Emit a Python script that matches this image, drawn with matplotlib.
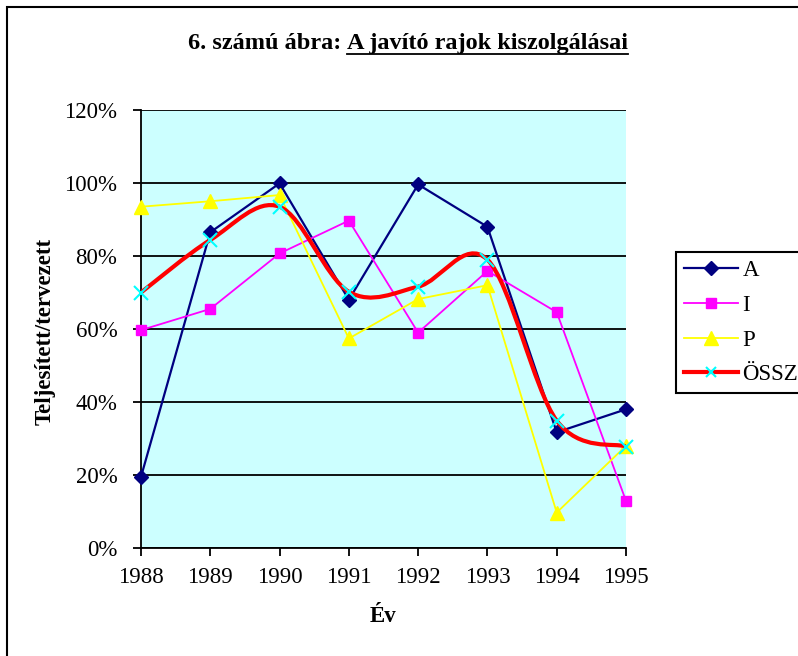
import matplotlib
matplotlib.use('Agg')
import matplotlib.pyplot as plt
from matplotlib.path import Path
from matplotlib.patches import PathPatch, Rectangle
from matplotlib.lines import Line2D
from matplotlib.ticker import FuncFormatter

plt.rcParams['font.family'] = ['Liberation Serif', 'DejaVu Serif']

# ── Data (percent, teljesített/tervezett) ─────────────────────────────────────
years = [1988, 1989, 1990, 1991, 1992, 1993, 1994, 1995]
val_a    = [19.5, 86.5, 99.9, 68.0, 99.6, 88.0, 31.7, 38.0]
val_i    = [59.7, 65.5, 80.7, 89.7, 59.0, 75.9, 64.6, 12.9]
val_p    = [93.5, 95.0, 96.7, 57.4, 68.2, 72.0,  9.7, 28.0]
val_ossz = [70.0, 84.4, 93.5, 70.2, 71.6, 79.0, 34.9, 27.8]

C_BG   = '#CCFFFF'
C_A    = '#000080'
C_I    = '#FF00FF'
C_P    = '#FFFF00'
C_OSSZ = '#FF0000'
C_X    = '#00FFFF'
FS = 16.5

W, H = 798, 656
fig = plt.figure(figsize=(W / 100, H / 100), dpi=100)
fig.patch.set_facecolor('white')

# outer chart border (right/bottom run off the picture)
fig.patches.append(Rectangle((7 / W, -0.05), 1.2, 1 - 7 / H + 0.05,
                             transform=fig.transFigure, fill=False,
                             edgecolor='black', lw=1.5))

ax = fig.add_axes([141 / W, 1 - 548 / H, (626 - 141) / W, (548 - 110) / H])
ax.set_facecolor(C_BG)
ax.set_xlim(years[0], years[-1])
ax.set_ylim(0, 120)
ax.set_yticks(range(0, 121, 20))
ax.set_xticks(years)
ax.yaxis.set_major_formatter(FuncFormatter(lambda v, p: f'{v:.0f}%'))
ax.grid(axis='y', color='black', lw=1.3)
ax.set_axisbelow(True)
for s in ['top', 'right']:
    ax.spines[s].set_visible(False)
for s in ['left', 'bottom']:
    ax.spines[s].set_linewidth(1.3)
ax.tick_params(direction='out', length=6, width=1.3, labelsize=FS, pad=8)
ax.tick_params(axis='y', pad=11)

ax.plot(years, val_a, color=C_A, lw=1.6, marker='D', ms=7, clip_on=False, zorder=3)
ax.plot(years, val_i, color=C_I, lw=1.3, marker='s', ms=7.5, clip_on=False, zorder=4)
ax.plot(years, val_p, color=C_P, lw=1.3, marker='^', ms=9.5, clip_on=False, zorder=5)

# smoothed ÖSSZ line: cubic Bezier segments through the points
pts = list(zip(years, val_ossz))
verts = [pts[0]]
codes = [Path.MOVETO]
for k in range(len(pts) - 1):
    p0 = pts[max(k - 1, 0)]
    p1 = pts[k]
    p2 = pts[k + 1]
    p3 = pts[min(k + 2, len(pts) - 1)]
    c1 = (p1[0] + (p2[0] - p0[0]) / 6, p1[1] + (p2[1] - p0[1]) / 6)
    c2 = (p2[0] - (p3[0] - p1[0]) / 6, p2[1] - (p3[1] - p1[1]) / 6)
    verts += [c1, c2, p2]
    codes += [Path.CURVE4] * 3
ax.add_patch(PathPatch(Path(verts, codes), fill=False, edgecolor=C_OSSZ,
                       lw=3, capstyle='round', joinstyle='round', zorder=6))
ax.plot(years, val_ossz, ls='none', marker='x', ms=10, mew=1.5, color=C_X,
        clip_on=False, zorder=7)

# ── Texts ─────────────────────────────────────────────────────────────────────
fig.text(45 / W, 1 - 331 / H, 'Teljesített/tervezett', rotation=90,
         fontsize=FS, fontweight='bold', ha='center', va='center')
fig.text(383 / W, 1 - 617 / H, 'Év', fontsize=FS, fontweight='bold',
         ha='center', va='center')

t1 = fig.text(0, 1 - 49 / H, '6. számú ábra: ', fontsize=17.5, fontweight='bold',
              ha='left', va='baseline')
t2 = fig.text(0, 1 - 49 / H, 'A javító rajok kiszolgálásai', fontsize=17.5,
              fontweight='bold', ha='left', va='baseline')
r = fig.canvas.get_renderer()
w1 = t1.get_window_extent(r).width
w2 = t2.get_window_extent(r).width
x0 = 408 - (w1 + w2) / 2
t1.set_x(x0 / W)
t2.set_x((x0 + w1) / W)
fig.add_artist(Line2D([(x0 + w1) / W, (x0 + w1 + w2) / W],
                      [1 - 54 / H, 1 - 54 / H], transform=fig.transFigure,
                      color='black', lw=1.3))

# ── Legend ────────────────────────────────────────────────────────────────────
handles = [
    Line2D([], [], color=C_A, lw=1.6, marker='D', ms=7),
    Line2D([], [], color=C_I, lw=1.3, marker='s', ms=7.5),
    Line2D([], [], color=C_P, lw=1.3, marker='^', ms=9.5),
    Line2D([], [], color=C_OSSZ, lw=3, marker='x', ms=7, mew=1.5, mec=C_X),
]
leg = fig.legend(handles, ['A', 'I', 'P', 'ÖSSZ'], loc='upper left',
                 bbox_to_anchor=(676 / W, 1 - 252 / H), fontsize=FS,
                 frameon=True, fancybox=False, shadow=False, framealpha=1,
                 edgecolor='black', borderpad=0.35, labelspacing=0.6,
                 handlelength=2.35, handletextpad=0.2, borderaxespad=0)
leg.get_frame().set_linewidth(1.5)

fig.savefig('out.png', dpi=100, facecolor='white')
